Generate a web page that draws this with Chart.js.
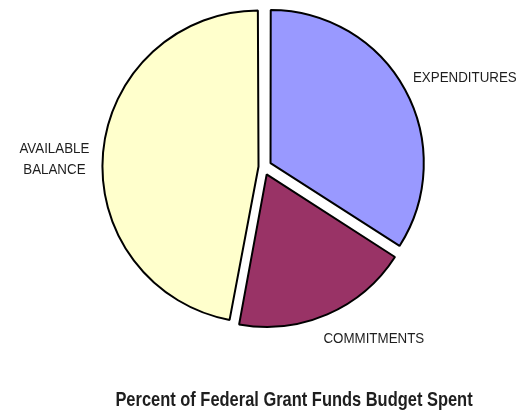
<!DOCTYPE html>
<html lang="en">
<head>
    <meta charset="UTF-8">
    <title>Federal Grant Funds</title>
    <script src="https://cdn.jsdelivr.net/npm/chart.js"></script>
</head>
<body>
    <div class="grafico">
        <canvas id="graficoPizza" width="521" height="411"></canvas>
    </div>
</body>
</html>

<script>
    // budget split, in percent, clockwise from the top
    var categorias = ['EXPENDITURES', 'COMMITMENTS', 'AVAILABLE BALANCE'];
    var linhasRotulo = [['EXPENDITURES'], ['COMMITMENTS'], ['AVAILABLE', 'BALANCE']];
    var valores = [34.1, 18.8, 47.1];
    var cores = ['#9999ff', '#993366', '#ffffcc'];
    var titulo = 'Percent of Federal Grant Funds Budget Spent';

    var fonteTexto = '"Liberation Sans", Arial, sans-serif';
    var corTexto = '#1e1e1e';

    // small nudges so the names sit where the old spreadsheet put them
    var ajustes = [[-4, 3], [18, -5], [7, 11]];

    // writes the category names outside each slice (narrowed a bit) and the title below
    const rotulosFatias = {
        id: 'rotulosFatias',
        afterDatasetsDraw(chart) {
            const ctx = chart.ctx;
            const arcos = chart.getDatasetMeta(0).data;
            const estreito = 0.89;
            const alturaLinha = 20.5;
            ctx.save();
            ctx.font = '15px ' + fonteTexto;
            ctx.fillStyle = corTexto;
            ctx.textAlign = 'center';
            ctx.textBaseline = 'middle';
            arcos.forEach(function(arco, i) {
                const p = arco.getProps(['x', 'y', 'startAngle', 'endAngle', 'outerRadius']);
                const meio = (p.startAngle + p.endAngle) / 2;
                const dx = Math.cos(meio), dy = Math.sin(meio);
                const linhas = linhasRotulo[i];
                let largura = 0;
                linhas.forEach(function(l) { largura = Math.max(largura, ctx.measureText(l).width * estreito); });
                const altura = linhas.length * alturaLinha;
                const dist = p.outerRadius + 30;
                const cx = p.x + dx * dist + dx * largura / 2 + ajustes[i][0];
                const cy = p.y + dy * dist + dy * altura / 2 + ajustes[i][1];
                linhas.forEach(function(l, k) {
                    ctx.save();
                    ctx.translate(cx, cy - altura / 2 + alturaLinha * (k + 0.5));
                    ctx.scale(estreito, 1);
                    ctx.fillText(l, 0, 0);
                    ctx.restore();
                });
            });

            ctx.font = 'bold 21px ' + fonteTexto;
            ctx.textBaseline = 'alphabetic';
            ctx.translate(294, 406);
            ctx.scale(0.783, 1);
            ctx.fillText(titulo, 0, 0);
            ctx.restore();
        }
    };

    new Chart(document.getElementById('graficoPizza'), {
        type: 'pie',
        data: {
            labels: categorias,
            datasets: [{
                data: valores,
                backgroundColor: cores,
                borderColor: '#000000',
                borderWidth: 2,
                offset: [32, 32, 20],
                radius: 152
            }]
        },
        options: {
            responsive: false,
            animation: false,
            layout: {
                padding: { left: 6, right: 0, top: 0, bottom: 77 }
            },
            plugins: {
                legend: { display: false },
                tooltip: { enabled: false },
                title: { display: false }
            }
        },
        plugins: [rotulosFatias]
    });
</script>
<style>
    body { margin: 0; background: #ffffff; }
    .grafico { width: 521px; height: 411px; }
</style>
